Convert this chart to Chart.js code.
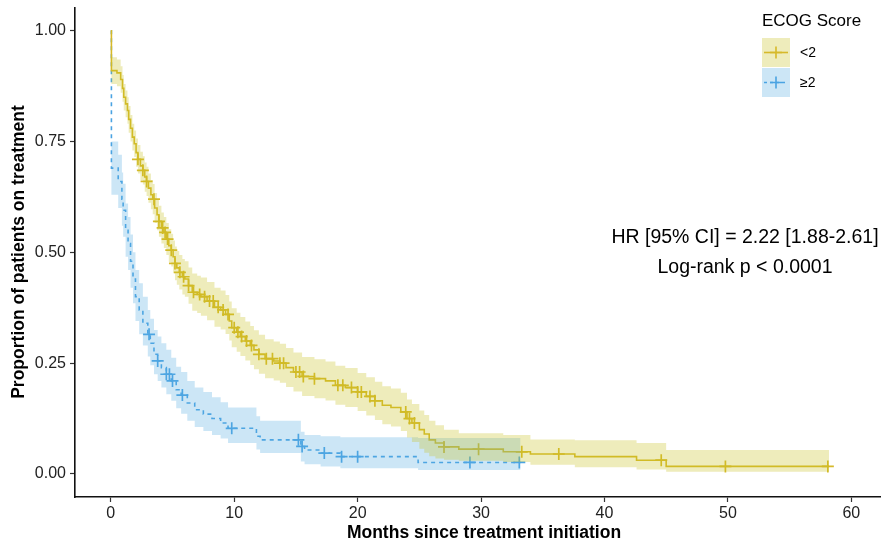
<!DOCTYPE html>
<html>
<head>
<meta charset="utf-8">
<script src="https://cdn.jsdelivr.net/npm/chart.js@4.4.1/dist/chart.umd.min.js"></script>
<style>
  html, body { margin: 0; padding: 0; background: #fff; }
  #wrap { position: relative; width: 888px; height: 547px; }
</style>
</head>
<body>
<div id="wrap"><canvas id="km" width="888" height="547"></canvas></div>
<script>
// ECOG < 2
const lowTime  = [0, 0.05, 0.5, 0.8, 0.95, 1.05, 1.2, 1.35, 1.45, 1.6, 1.75, 1.9, 2.05, 2.2, 2.4, 2.6, 2.75, 2.9, 3.05, 3.25, 3.4, 3.55, 3.75, 3.9, 4.1, 4.3, 4.5, 4.7, 4.9, 5.05, 5.2, 5.35, 5.55, 5.8, 6.0, 6.3, 6.6, 7.0, 7.3, 7.8, 8.4, 8.9, 9.3, 9.6, 9.8, 10.2, 10.5, 10.9, 11.3, 11.6, 12.0, 12.5, 13.2, 13.7, 14.2, 14.8, 15.5, 16.5, 17.4, 18.2, 19.0, 20.0, 20.7, 21.4, 22.0, 22.7, 23.5, 24.0, 24.4, 25.0, 25.4, 25.8, 26.3, 27.0, 28.2, 31.8, 34.0, 37.6, 42.6, 45.0, 58.2]
const lowSurv  = [1, 0.91, 0.905, 0.89, 0.87, 0.85, 0.835, 0.82, 0.80, 0.78, 0.76, 0.745, 0.725, 0.71, 0.695, 0.685, 0.67, 0.66, 0.645, 0.63, 0.62, 0.60, 0.585, 0.57, 0.555, 0.545, 0.53, 0.515, 0.505, 0.49, 0.475, 0.465, 0.455, 0.445, 0.44, 0.425, 0.41, 0.405, 0.40, 0.39, 0.376, 0.37, 0.36, 0.345, 0.33, 0.32, 0.31, 0.30, 0.29, 0.28, 0.27, 0.26, 0.255, 0.25, 0.24, 0.23, 0.22, 0.215, 0.21, 0.20, 0.195, 0.185, 0.175, 0.165, 0.155, 0.15, 0.14, 0.125, 0.115, 0.10, 0.09, 0.077, 0.07, 0.061, 0.056, 0.05, 0.045, 0.039, 0.031, 0.017, 0.017]
const lowUpper = [1, 0.94, 0.935, 0.92, 0.90, 0.88, 0.865, 0.85, 0.83, 0.81, 0.79, 0.775, 0.757, 0.742, 0.727, 0.717, 0.703, 0.693, 0.678, 0.663, 0.654, 0.634, 0.62, 0.605, 0.59, 0.58, 0.566, 0.552, 0.542, 0.527, 0.513, 0.503, 0.494, 0.485, 0.48, 0.466, 0.452, 0.447, 0.443, 0.433, 0.42, 0.414, 0.404, 0.389, 0.374, 0.364, 0.354, 0.344, 0.334, 0.324, 0.314, 0.304, 0.299, 0.294, 0.284, 0.274, 0.264, 0.259, 0.254, 0.244, 0.239, 0.228, 0.218, 0.208, 0.198, 0.193, 0.183, 0.168, 0.158, 0.143, 0.133, 0.12, 0.11, 0.10, 0.092, 0.088, 0.078, 0.076, 0.07, 0.054, 0.054]
const lowLower = [1, 0.88, 0.875, 0.86, 0.84, 0.82, 0.805, 0.79, 0.77, 0.75, 0.73, 0.715, 0.693, 0.678, 0.663, 0.653, 0.637, 0.627, 0.612, 0.597, 0.586, 0.566, 0.55, 0.535, 0.52, 0.51, 0.494, 0.478, 0.468, 0.453, 0.437, 0.427, 0.416, 0.405, 0.40, 0.384, 0.368, 0.363, 0.357, 0.347, 0.332, 0.326, 0.316, 0.301, 0.286, 0.276, 0.266, 0.256, 0.246, 0.236, 0.226, 0.216, 0.211, 0.206, 0.196, 0.186, 0.176, 0.171, 0.166, 0.156, 0.151, 0.142, 0.132, 0.122, 0.112, 0.107, 0.097, 0.082, 0.072, 0.057, 0.048, 0.04, 0.035, 0.032, 0.03, 0.027, 0.021, 0.015, 0.01, 0.005, 0.005]
const lowCensor = [2.2, 2.6, 2.9, 3.5, 3.9, 4.2, 4.4, 4.6, 4.9, 5.2, 5.6, 5.9, 6.3, 6.7, 7.2, 7.6, 8.0, 8.3, 8.7, 9.1, 9.5, 10.0, 10.3, 10.6, 11.0, 11.4, 12.0, 12.6, 13.1, 13.7, 14.0, 15.0, 15.3, 15.6, 16.5, 18.4, 18.8, 19.5, 20.0, 20.3, 21.0, 21.4, 23.9, 24.2, 24.6, 27.0, 29.8, 33.3, 36.3, 44.6, 49.8, 58.1]

// ECOG >= 2
const highTime  = [0, 0.05, 0.6, 0.9, 1.0, 1.2, 1.4, 1.6, 1.8, 2.0, 2.3, 2.6, 3.0, 3.2, 3.5, 3.8, 4.1, 4.5, 4.9, 5.3, 5.7, 6.2, 6.8, 7.5, 8.2, 8.9, 9.5, 11.8, 12.1, 15.4, 15.7, 17.0, 18.6, 24.9, 33.2]
const highSurv  = [1, 0.69, 0.66, 0.62, 0.595, 0.55, 0.52, 0.48, 0.44, 0.40, 0.37, 0.34, 0.315, 0.295, 0.27, 0.255, 0.24, 0.225, 0.21, 0.19, 0.178, 0.16, 0.145, 0.135, 0.125, 0.115, 0.103, 0.085, 0.077, 0.062, 0.054, 0.047, 0.039, 0.026, 0.026]
const highUpper = [1, 0.75, 0.72, 0.68, 0.655, 0.61, 0.58, 0.54, 0.50, 0.46, 0.43, 0.40, 0.37, 0.35, 0.325, 0.31, 0.295, 0.28, 0.262, 0.242, 0.23, 0.21, 0.195, 0.185, 0.173, 0.162, 0.15, 0.13, 0.12, 0.095, 0.088, 0.085, 0.083, 0.081, 0.081]
const highLower = [1, 0.63, 0.60, 0.56, 0.535, 0.49, 0.46, 0.42, 0.385, 0.345, 0.315, 0.29, 0.265, 0.245, 0.225, 0.21, 0.195, 0.18, 0.165, 0.148, 0.136, 0.12, 0.106, 0.097, 0.088, 0.08, 0.07, 0.055, 0.047, 0.028, 0.022, 0.017, 0.013, 0.009, 0.009]
const highCensor = [3.1, 3.8, 4.5, 4.75, 5.0, 5.8, 9.8, 15.2, 15.5, 17.3, 18.7, 20.0, 29.1, 33.1]

const xTicks = [0, 10, 20, 30, 40, 50, 60]
const yTicks = [0, 0.25, 0.5, 0.75, 1]
const yTickLabels = ['0.00', '0.25', '0.50', '0.75', '1.00']

const groupLabels = ['<2', '\u22652']
const legendTitle = 'ECOG Score'
const annotation = ['HR [95% CI] = 2.22 [1.88-2.61]', 'Log-rank p < 0.0001']

const yellow = '#D6B92A'
const yellowBand = 'rgba(200,192,30,0.3)'
const blue = '#4AA3E2'
const blueBand = 'rgba(85,172,225,0.3)'
const FONT = '"Liberation Sans", Arial, Helvetica, sans-serif'

const pts = (xs, ys) => xs.map((x, i) => ({x: x, y: ys[i]}))

const survAt = (times, surv, t) => {
  let s = surv[0]
  for (let i = 0; i < times.length; i++) {
    if (times[i] <= t) s = surv[i]
  }
  return s
}

const censorPts = (cens, times, surv) => cens.map((t) => ({x: t, y: survAt(times, surv, t)}))

const band = (data, color, fill) => ({
  type: 'line', data: data, stepped: 'before', borderWidth: 0, borderColor: 'rgba(0,0,0,0)',
  pointRadius: 0, backgroundColor: color, fill: fill
})

const overlay = {
  id: 'overlay',
  afterDraw(chart) {
    const ctx = chart.ctx
    ctx.save()
    // axis titles
    ctx.fillStyle = '#000'
    ctx.font = 'bold 17.5px ' + FONT
    ctx.textAlign = 'center'
    ctx.textBaseline = 'middle'
    ctx.fillText('Months since treatment initiation', 484, 533)
    ctx.save()
    ctx.translate(19, 252)
    ctx.rotate(-Math.PI / 2)
    ctx.fillText('Proportion of patients on treatment', 0, 0)
    ctx.restore()

    // HR text
    ctx.font = '19.5px ' + FONT
    ctx.fillText(annotation[0], 745, 238)
    ctx.fillText(annotation[1], 745, 268)

    // legend
    ctx.textAlign = 'left'
    ctx.font = '17px ' + FONT
    ctx.fillText(legendTitle, 762, 21)
    const keys = [
      {y: 38, line: yellow, fill: yellowBand, dash: []},
      {y: 68, line: blue, fill: blueBand, dash: [3, 3]}
    ]
    keys.forEach((k, i) => {
      ctx.fillStyle = k.fill
      ctx.fillRect(762, k.y, 28, 29)
      const cy = k.y + 14.5
      ctx.strokeStyle = k.line
      ctx.lineWidth = 1.6
      ctx.setLineDash(k.dash)
      ctx.beginPath()
      ctx.moveTo(764, cy)
      ctx.lineTo(788, cy)
      ctx.stroke()
      ctx.setLineDash([])
      ctx.beginPath()
      ctx.moveTo(776, cy - 6)
      ctx.lineTo(776, cy + 6)
      ctx.moveTo(770, cy)
      ctx.lineTo(782, cy)
      ctx.stroke()
      ctx.fillStyle = '#000'
      ctx.font = '14px ' + FONT
      ctx.fillText(groupLabels[i], 800, cy + 1)
    })
    ctx.restore()
  }
}

new Chart(document.getElementById('km'), {
  data: {
    datasets: [
      band(pts(lowTime, lowUpper), yellowBand, '+1'),
      band(pts(lowTime, lowLower), yellowBand, false),
      band(pts(highTime, highUpper), blueBand, '+1'),
      band(pts(highTime, highLower), blueBand, false),
      {
        type: 'line', data: pts(lowTime, lowSurv), stepped: 'before', borderColor: yellow,
        borderWidth: 1.6, pointRadius: 0, fill: false
      },
      {
        type: 'line', data: pts(highTime, highSurv), stepped: 'before', borderColor: blue,
        borderWidth: 1.6, borderDash: [4, 4], pointRadius: 0, fill: false
      },
      {
        type: 'scatter', data: censorPts(lowCensor, lowTime, lowSurv), pointStyle: 'cross',
        pointRadius: 6, borderColor: yellow, borderWidth: 1.7, showLine: false
      },
      {
        type: 'scatter', data: censorPts(highCensor, highTime, highSurv), pointStyle: 'cross',
        pointRadius: 6, borderColor: blue, borderWidth: 1.7, showLine: false
      }
    ]
  },
  options: {
    responsive: false,
    animation: false,
    events: [],
    layout: { padding: { top: 6, right: 2, left: 0, bottom: 0 } },
    plugins: { legend: { display: false }, tooltip: { enabled: false } },
    scales: {
      x: {
        type: 'linear', min: -2.9, max: 62.35,
        afterBuildTicks: (scale) => { scale.ticks = xTicks.map((v) => ({value: v})) },
        afterFit: (scale) => { scale.height = 50; scale.paddingLeft = 0; scale.paddingRight = 0 },
        grid: { drawOnChartArea: false, drawTicks: true, tickLength: 5, tickColor: '#333', tickWidth: 1.2 },
        border: { display: true, color: '#111', width: 1.6 },
        ticks: { color: '#222', font: { family: FONT, size: 16 }, padding: 2, maxRotation: 0, autoSkip: false,
          callback: (v) => String(v) }
      },
      y: {
        type: 'linear', min: -0.052, max: 1.052,
        afterBuildTicks: (scale) => { scale.ticks = yTicks.map((v) => ({value: v})) },
        afterFit: (scale) => { scale.width = 75; scale.paddingTop = 0; scale.paddingBottom = 0 },
        grid: { drawOnChartArea: false, drawTicks: true, tickLength: 5, tickColor: '#333', tickWidth: 1.2 },
        border: { display: true, color: '#111', width: 1.6 },
        ticks: { color: '#222', font: { family: FONT, size: 16 }, padding: 4, autoSkip: false,
          callback: (v) => yTickLabels[yTicks.indexOf(v)] }
      }
    }
  },
  plugins: [overlay]
})
</script>
</body>
</html>
